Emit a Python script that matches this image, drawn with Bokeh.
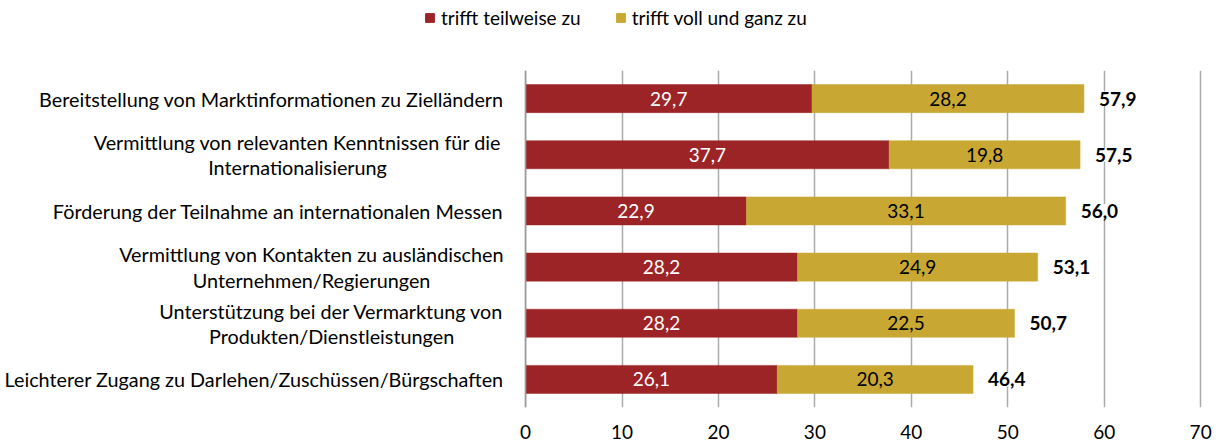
from bokeh.plotting import figure
from bokeh.layouts import column
from bokeh.models import ColumnDataSource, LabelSet, Legend, LegendItem, FactorRange, FixedTicker, Span
from bokeh.core.properties import value
from bokeh.embed import file_html
from bokeh.resources import INLINE

categories = [
    "Bereitstellung von Marktinformationen zu Zielländern",
    "Vermittlung von relevanten Kenntnissen für die\nInternationalisierung",
    "Förderung der Teilnahme an internationalen Messen",
    "Vermittlung von Kontakten zu ausländischen\nUnternehmen/Regierungen",
    "Unterstützung bei der Vermarktung von\nProdukten/Dienstleistungen",
    "Leichterer Zugang zu Darlehen/Zuschüssen/Bürgschaften",
]
teilweise = [29.7, 37.7, 22.9, 28.2, 28.2, 26.1]
voll = [28.2, 19.8, 33.1, 24.9, 22.5, 20.3]
totals = [57.9, 57.5, 56.0, 53.1, 50.7, 46.4]
series_names = ["trifft teilweise zu", "trifft voll und ganz zu"]
x_ticks = [0, 10, 20, 30, 40, 50, 60, 70]

# ---- styling / layout (not data) ----
RED = "#9C2427"
GOLD = "#C8A832"
GRID = "#ABABAB"
FONT = "Lato"
FS = "19px"
FS_CAT = "19.8px"
W = 1227
LEG_H = 62             # height of the legend strip
H = 384                # height of the chart figure
ZERO_PX = 525          # screen x of value 0
PX_PER_UNIT = 675 / 70 # 70 sits at screen x 1200
X_END = 70.4           # a little room so the gridline at 70 is drawn
FRAME_TOP = 70 - LEG_H
FRAME_BOTTOM = 407 - LEG_H
x_start = -ZERO_PX / PX_PER_UNIT
frame_right = round(ZERO_PX + X_END * PX_PER_UNIT)
# horizontal placement of the category labels (screen px relative to value 0)
label_place = [("right", -22), ("center", -228), ("right", -22),
               ("center", -214), ("center", -194), ("right", -22)]


def fmt(v):
    return f"{v:.1f}".replace(".", ",")


src = ColumnDataSource(dict(
    cat=categories,
    teil=teilweise,
    voll=voll,
    total=totals,
    teil_mid=[t / 2 for t in teilweise],
    voll_mid=[t + v / 2 for t, v in zip(teilweise, voll)],
    teil_lbl=[fmt(v) for v in teilweise],
    voll_lbl=[fmt(v) for v in voll],
    total_lbl=[fmt(v) for v in totals],
))

p = figure(width=W, height=H,
           y_range=FactorRange(*reversed(categories)),
           x_range=(x_start, X_END),
           output_backend="svg", toolbar_location=None,
           min_border_left=0, min_border_right=W - frame_right,
           min_border_top=FRAME_TOP, min_border_bottom=H - FRAME_BOTTOM)
p.yaxis.visible = False
p.outline_line_color = None

# grid
p.xgrid.grid_line_color = GRID
p.xgrid.grid_line_width = 1.5
p.xgrid.ticker = FixedTicker(ticks=x_ticks)
p.ygrid.grid_line_color = None
p.add_layout(Span(location=0, dimension="height", line_color="#9A9A9A", line_width=1.5))

rs = p.hbar_stack(["teil", "voll"], y="cat", height=0.5, source=src,
                  color=[RED, GOLD], line_color=[RED, GOLD], line_width=0.5)

# x axis
p.xaxis.ticker = FixedTicker(ticks=x_ticks)
p.xaxis.axis_line_color = None
p.xaxis.major_tick_line_color = None
p.xaxis.minor_tick_line_color = None
p.xaxis.major_tick_out = 0
p.xaxis.major_label_text_font = FONT
p.xaxis.major_label_text_font_size = FS
p.xaxis.major_label_text_color = "#000000"
p.xaxis.major_label_standoff = 17

# category labels
for align in ("right", "center"):
    idx = [i for i, (a, _) in enumerate(label_place) if a == align]
    csrc = ColumnDataSource(dict(
        y=[categories[i] for i in idx],
        text=[categories[i] for i in idx],
        dx=[label_place[i][1] for i in idx],
        x=[0] * len(idx),
    ))
    p.text(x="x", y="y", text="text", x_offset="dx", source=csrc,
           text_align=align, text_baseline="middle",
           text_font=value(FONT), text_font_size=FS_CAT, text_color="#000000",
           text_line_height=1.05)

# labels inside bars
p.add_layout(LabelSet(x="teil_mid", y="cat", text="teil_lbl", source=src,
                      text_align="center", text_baseline="middle",
                      text_color="white", text_font=value(FONT), text_font_size=FS))
p.add_layout(LabelSet(x="voll_mid", y="cat", text="voll_lbl", source=src,
                      text_align="center", text_baseline="middle",
                      text_color="#000000", text_font=value(FONT), text_font_size=FS))
p.add_layout(LabelSet(x="total", y="cat", text="total_lbl", source=src,
                      x_offset=15, text_align="left", text_baseline="middle",
                      text_color="#000000", text_font=value(FONT), text_font_size=FS,
                      text_font_style="bold",
                      background_fill_color="white"))

# legend strip (separate figure; its swatch renderers lie outside its visible range)
lg = figure(width=W, height=LEG_H, x_range=(0, W), y_range=(0, LEG_H),
            output_backend="svg", toolbar_location=None,
            min_border_left=0, min_border_right=0, min_border_top=0, min_border_bottom=0,
            x_axis_location=None, y_axis_location=None)
lg.outline_line_color = None
lg.grid.visible = False
d0 = lg.hbar(y=[-1000], left=[0], right=[1], height=1, color=RED)
d1 = lg.hbar(y=[-1000], left=[0], right=[1], height=1, color=GOLD)
legend = Legend(items=[LegendItem(label=series_names[0], renderers=[d0]),
                       LegendItem(label=series_names[1], renderers=[d1])],
                orientation="horizontal", location=(424, LEG_H - 29),
                glyph_width=11, glyph_height=11, label_standoff=6, spacing=34,
                padding=0, margin=0, border_line_color=None,
                background_fill_alpha=0,
                label_text_font=FONT, label_text_font_size=FS,
                label_text_color="#000000")
lg.add_layout(legend, "center")

layout = column(lg, p, spacing=0)
open("out.html", "w").write(file_html(layout, INLINE))
